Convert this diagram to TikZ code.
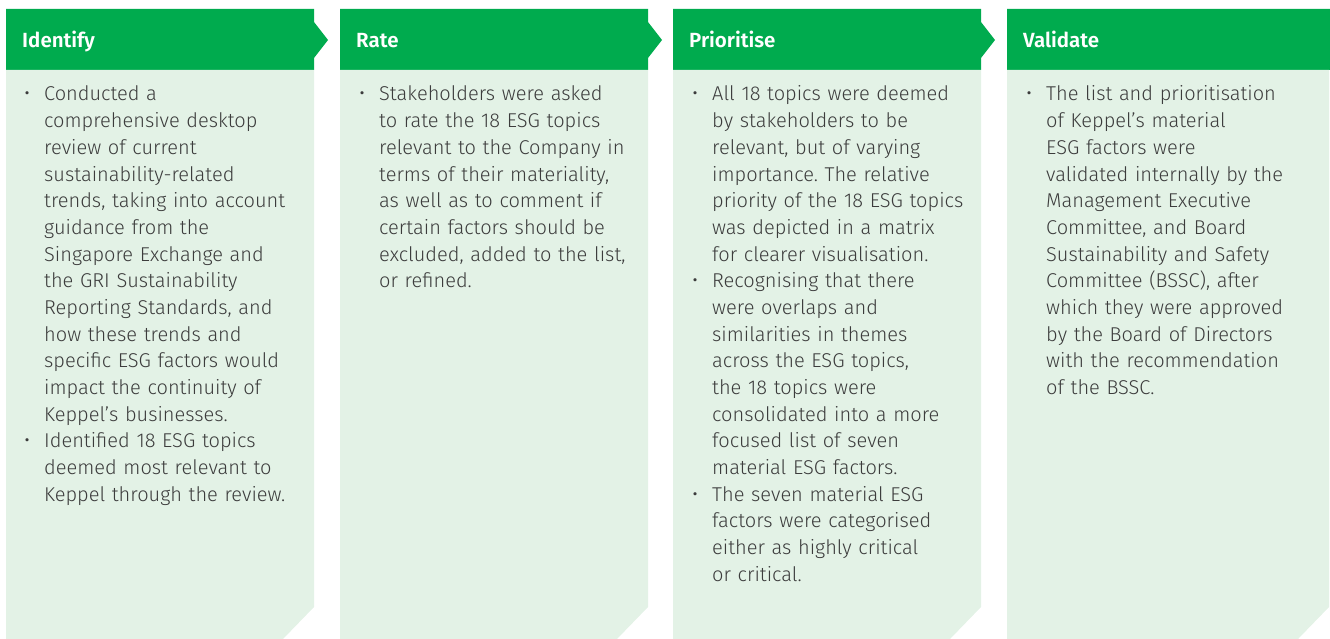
\documentclass[tikz,border=0pt]{standalone}
\usepackage{fontspec}
\setmainfont{Fira Sans}[UprightFont=* Light, BoldFont=* SemiBold]
\frenchspacing

\definecolor{headgreen}{RGB}{0,171,78}
\definecolor{bodygreen}{RGB}{227,242,230}
\definecolor{textgray}{RGB}{60,60,60}

\newcommand{\blt}{\leavevmode\llap{{\fontsize{21}{21}\selectfont\textbullet}\hspace{14pt}}}

\tikzset{
    head/.style={fill=headgreen},
    body/.style={fill=bodygreen},
    headtext/.style={anchor=base west, inner sep=0pt, text=white,
        font=\fontsize{20.5}{22}\selectfont\bfseries},
    bodytext/.style={anchor=base west, inner sep=0pt, text=textgray,
        text width=320pt, align=left, font=\fontsize{20}{26.67}\selectfont},
}

\begin{document}
\begin{tikzpicture}[x=1pt,y=-1pt]
    \useasboundingbox (0,0) rectangle (1330,639);

    % header arrows
    \path[head]
        (6,9) -- (314,9) -- (314,22) -- (328,40) -- (314,58) -- (314,70) -- (6,70) -- cycle
        (340,9) -- (648,9) -- (648,22) -- (662,40) -- (648,58) -- (648,70) -- (340,70) -- cycle
        (673,9) -- (981,9) -- (981,22) -- (995,40) -- (981,58) -- (981,70) -- (673,70) -- cycle
        (1007,9) rectangle (1330,70)
    ;
    % bodies with cut corner
    \path[body]
        (6,70) -- (314,70) -- (314,607) -- (283,639) -- (6,639) -- cycle
        (340,70) -- (648,70) -- (648,607) -- (617,639) -- (340,639) -- cycle
        (673,70) -- (981,70) -- (981,607) -- (950,639) -- (673,639) -- cycle
        (1007,70) -- (1329,70) -- (1329,607) -- (1298,639) -- (1007,639) -- cycle
    ;

    \node[headtext] (identify) at (22,48) {Identify};
    \node[headtext] (rate) at (356,48) {Rate};
    \node[headtext] (prioritise) at (689,48) {Prioritise};
    \node[headtext] (validate) at (1023,48) {Validate};

    \node[bodytext] (identifytext) at (44,101) {%
        \blt Conducted a\\
        comprehensive desktop\\
        review of current\\
        sustainability-related\\
        trends, taking into account\\
        guidance from the\\
        Singapore Exchange and\\
        the GRI Sustainability\\
        Reporting Standards, and\\
        how these trends and\\
        specific ESG factors would\\
        impact the continuity of\\
        Keppel’s businesses.\\
        \blt Identified 18 ESG topics\\
        deemed most relevant to\\
        Keppel through the review.};

    \node[bodytext] (ratetext) at (379,101) {%
        \blt Stakeholders were asked\\
        to rate the 18 ESG topics\\
        relevant to the Company in\\
        terms of their materiality,\\
        as well as to comment if\\
        certain factors should be\\
        excluded, added to the list,\\
        or refined.};

    \node[bodytext] (prioritisetext) at (712,101) {%
        \blt All 18 topics were deemed\\
        by stakeholders to be\\
        relevant, but of varying\\
        importance. The relative\\
        priority of the 18 ESG topics\\
        was depicted in a matrix\\
        for clearer visualisation.\\
        \blt Recognising that there\\
        were overlaps and\\
        similarities in themes\\
        across the ESG topics,\\
        the 18 topics were\\
        consolidated into a more\\
        focused list of seven\\
        material ESG factors.\\
        \blt The seven material ESG\\
        factors were categorised\\
        either as highly critical\\
        or critical.};

    \node[bodytext] (validatetext) at (1046,101) {%
        \blt The list and prioritisation\\
        of Keppel’s material\\
        ESG factors were\\
        validated internally by the\\
        Management Executive\\
        Committee, and Board\\
        Sustainability and Safety\\
        Committee (BSSC), after\\
        which they were approved\\
        by the Board of Directors\\
        with the recommendation\\
        of the BSSC.};
\end{tikzpicture}
\end{document}
